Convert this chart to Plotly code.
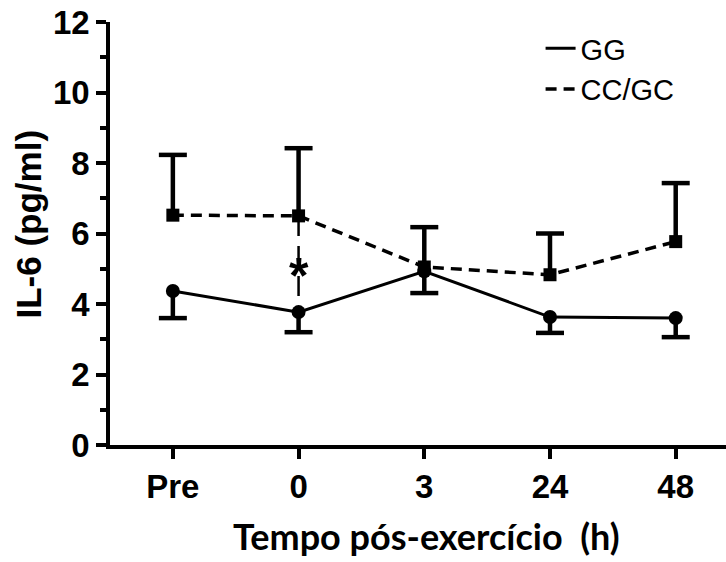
import plotly.graph_objects as go

# Sampling times after exercise
categories = ["Pre", "0", "3", "24", "48"]

# IL-6 (pg/ml), mean and SD per genotype group
gg_mean = [4.37, 3.77, 4.93, 3.63, 3.60]
gg_sd = [0.77, 0.57, 0.62, 0.45, 0.54]
cc_mean = [6.52, 6.50, 5.05, 4.83, 5.77]
cc_sd = [1.71, 1.92, 1.13, 1.17, 1.66]

# Time point with a significant between-group difference
sig_point = "0"

BLACK = "#000000"
DASH = "11px,7px"
ARIAL = "Liberation Sans, Arial, sans-serif"
TICK_FONT = dict(family=ARIAL, size=33, color=BLACK, weight="bold")


def one_sided_bars(xs, means, sds, sign):
    """Vertical segments from the mean to mean +/- SD, plus the cap ends."""
    seg_x, seg_y, cap_y = [], [], []
    for x, m, s in zip(xs, means, sds):
        end = m + sign * s
        seg_x += [x, x, None]
        seg_y += [m, end, None]
        cap_y.append(end)
    return seg_x, seg_y, cap_y


fig = go.Figure()

# Error bars (GG downward, CC/GC upward)
for means, sds, sign in ((gg_mean, gg_sd, -1), (cc_mean, cc_sd, 1)):
    sx, sy, cy = one_sided_bars(categories, means, sds, sign)
    fig.add_trace(go.Scatter(x=sx, y=sy, mode="lines",
                             line=dict(color=BLACK, width=4.5),
                             showlegend=False, hoverinfo="skip"))
    fig.add_trace(go.Scatter(x=categories, y=cy, mode="markers",
                             marker=dict(symbol="line-ew", size=20,
                                         line=dict(color=BLACK, width=4.5)),
                             showlegend=False, hoverinfo="skip"))

# Connector between the two groups at the significant time point
i_sig = categories.index(sig_point)
fig.add_trace(go.Scatter(x=[sig_point, sig_point],
                         y=[cc_mean[i_sig], gg_mean[i_sig]],
                         mode="lines",
                         line=dict(color=BLACK, width=2.5, dash="20px,10px"),
                         showlegend=False, hoverinfo="skip"))

# Group means
fig.add_trace(go.Scatter(x=categories, y=gg_mean, mode="lines+markers",
                         line=dict(color=BLACK, width=3),
                         marker=dict(symbol="circle", size=14, color=BLACK),
                         showlegend=False, name="GG"))
fig.add_trace(go.Scatter(x=categories, y=cc_mean, mode="lines+markers",
                         line=dict(color=BLACK, width=3.5, dash=DASH),
                         marker=dict(symbol="square", size=13, color=BLACK),
                         showlegend=False, name="CC/GC"))

# Legend entries (line style only)
fig.add_trace(go.Scatter(x=[None], y=[None], mode="lines", name="GG",
                         line=dict(color=BLACK, width=3)))
fig.add_trace(go.Scatter(x=[None], y=[None], mode="lines", name="CC/GC",
                         line=dict(color=BLACK, width=3.5, dash=DASH)))

# Significance marker halfway between the two means (category index on x)
fig.add_annotation(x=i_sig, y=(cc_mean[i_sig] + gg_mean[i_sig]) / 2,
                   xref="x", yref="y",
                   text="*", showarrow=False, yshift=-12,
                   font=dict(family=ARIAL, size=50, color=BLACK, weight="bold"))

# Axis titles
fig.add_annotation(x=-0.1315, y=0.5236, xref="paper", yref="paper",
                   text="IL-6 (pg/ml)", textangle=-90, showarrow=False,
                   xanchor="center", yanchor="middle",
                   font=dict(family=ARIAL, size=35, color=BLACK, weight="bold"))
fig.add_annotation(x=0.5138, y=-0.214, xref="paper", yref="paper",
                   text="Tempo pós-exercício  (h)", showarrow=False,
                   xanchor="center", yanchor="middle",
                   font=dict(family="Lato, Open Sans, sans-serif",
                             size=36, color=BLACK, weight="bold"))

fig.update_layout(
    width=726, height=562,
    margin=dict(l=110, r=0, t=22, b=117),
    paper_bgcolor="white", plot_bgcolor="white",
    showlegend=True,
    legend=dict(x=0.699, y=0.998, xanchor="left", yanchor="top",
                font=dict(family=ARIAL, size=29, color=BLACK),
                bgcolor="rgba(0,0,0,0)"),
    xaxis=dict(type="category", range=[-0.5, 4.4],
               showline=True, linecolor=BLACK, linewidth=3.5,
               ticks="outside", ticklen=10, tickwidth=3.5, tickcolor=BLACK,
               showgrid=False, zeroline=False, tickfont=TICK_FONT),
    yaxis=dict(range=[0, 12], tickvals=[0, 2, 4, 6, 8, 10, 12],
               showline=True, linecolor=BLACK, linewidth=3.5,
               ticks="outside", ticklen=10, tickwidth=3.5, tickcolor=BLACK,
               minor=dict(dtick=1, ticks="outside", ticklen=6, tickwidth=3.5,
                          tickcolor=BLACK),
               showgrid=False, zeroline=False, tickfont=TICK_FONT),
)

fig.write_html("out.html")
